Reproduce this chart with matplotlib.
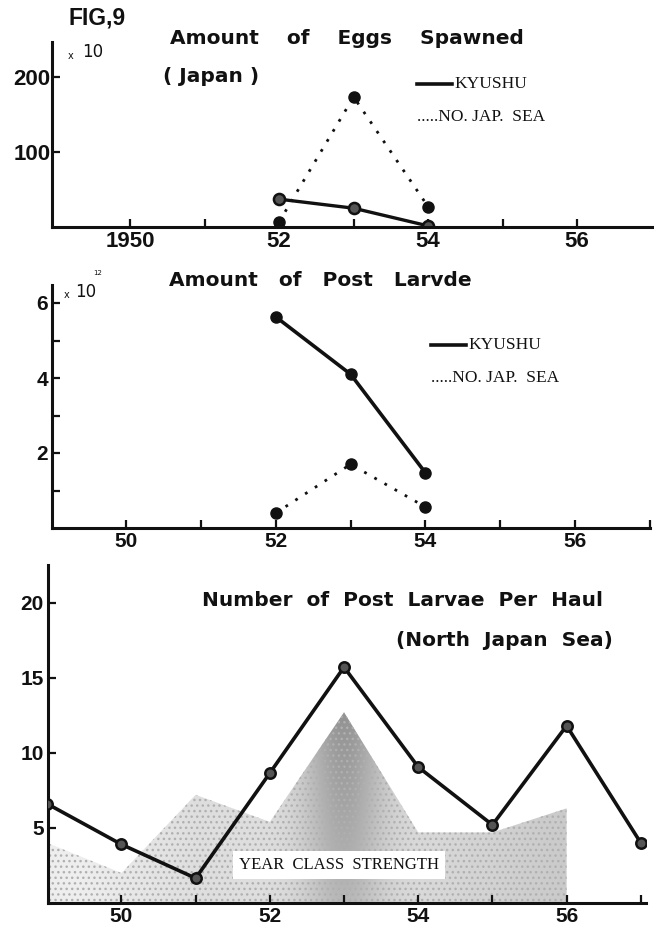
import numpy as np
import matplotlib
matplotlib.use("Agg")
import matplotlib.pyplot as plt
from matplotlib.patches import Polygon

# ---- data ----
egg_years = [1952, 1953, 1954]
egg_kyushu = [37, 25, 1.5]          # x 10
egg_njs = [7, 173, 27]

larvae_years = [1952, 1953, 1954]
larvae_kyushu = [5.63, 4.1, 1.47]   # x 10^12
larvae_njs = [0.4, 1.7, 0.56]

haul_years = [1949, 1950, 1951, 1952, 1953, 1954, 1955, 1956, 1957]
haul_values = [6.6, 3.9, 1.65, 8.65, 15.7, 9.05, 5.2, 11.8, 4.0]

strength_years = [1949, 1950, 1951, 1952, 1953, 1954, 1955, 1956]
strength_values = [4.0, 2.0, 7.2, 5.4, 12.7, 4.7, 4.7, 6.3]

xtick_years = [1950, 1952, 1954, 1956]
top_xticklabels = ["1950", "52", "54", "56"]
xticklabels = ["50", "52", "54", "56"]

W, H = 654, 935
fig = plt.figure(figsize=(W / 100, H / 100), dpi=100)
fig.patch.set_facecolor("white")

TICKFONT = "Liberation Sans"
TITLEFONT = "DejaVu Sans"
SERIF = "Liberation Serif"
INK = "#111111"


def px_axes(left, top, right, bottom):
    return fig.add_axes([left / W, 1 - bottom / H, (right - left) / W, (bottom - top) / H])


def style(ax, size):
    for s in ("top", "right"):
        ax.spines[s].set_visible(False)
    for s in ("left", "bottom"):
        ax.spines[s].set_linewidth(2.2)
        ax.spines[s].set_color(INK)
    ax.tick_params(which="both", direction="in", length=6, width=1.6, color=INK,
                   labelsize=size, pad=3)
    for lab in ax.get_xticklabels() + ax.get_yticklabels():
        lab.set_fontfamily(TICKFONT)
        lab.set_fontweight("bold")
        lab.set_color(INK)


def title(x, y, s, size=14.5):
    fig.text(x / W, 1 - y / H, s, family=TITLEFONT, fontweight="bold",
             fontsize=size, va="center", ha="center", color=INK)


def legend_block(x, y1, y2):
    # key: solid bar for Kyushu, dots for the Japan Sea
    fig.add_artist(plt.Line2D([x / W, (x + 35) / W], [1 - y1 / H, 1 - y1 / H],
                              color=INK, lw=2.6))
    fig.text((x + 37) / W, 1 - y1 / H, "KYUSHU", family=SERIF, fontsize=12.5,
             va="center", ha="left", color=INK)
    fig.text(x / W, 1 - y2 / H, ".....NO. JAP.  SEA", family=SERIF, fontsize=12.5,
             va="center", ha="left", color=INK)


# ---- panel 1: eggs spawned ----
ax1 = px_axes(52, 42, 653, 227)
ax1.set_xlim(1948.95, 1957.02)
ax1.set_ylim(0, 246)
ax1.plot(egg_years, egg_njs, color=INK, lw=2, ls=(0, (1, 3.2)),
         marker="o", ms=8, mfc=INK, mec=INK)
ax1.plot(egg_years, egg_kyushu, color=INK, lw=2.4,
         marker="o", ms=8, mfc="#555555", mec=INK, mew=1.8)
ax1.set_xticks(xtick_years)
ax1.set_xticklabels(top_xticklabels)
ax1.set_xticks([1951, 1953, 1955], minor=True)
ax1.set_yticks([100, 200])
style(ax1, 16)
ax1.tick_params(axis="y", pad=1)

fig.text(69 / W, 1 - 18 / H, "FIG,9", family=TICKFONT, fontweight="bold",
         fontsize=16.5, va="center", ha="left", color=INK)
title(347, 38, "Amount    of    Eggs    Spawned")
title(211, 77, "( Japan )")
fig.text(68 / W, 1 - 56 / H, "x", family="DejaVu Sans", fontsize=7,
         va="center", ha="left", color=INK)
fig.text(82 / W, 1 - 52 / H, "10", family="DejaVu Sans", fontsize=12,
         va="center", ha="left", color=INK)
legend_block(417, 84, 117)

# ---- panel 2: post larvae ----
ax2 = px_axes(52, 285, 650, 528)
ax2.set_xlim(1949.01, 1957.0)
ax2.set_ylim(0, 6.48)
ax2.plot(larvae_years, larvae_njs, color=INK, lw=2, ls=(0, (1, 3.2)),
         marker="o", ms=8, mfc=INK, mec=INK)
ax2.plot(larvae_years, larvae_kyushu, color=INK, lw=2.6,
         marker="o", ms=8, mfc=INK, mec=INK)
ax2.set_xticks(xtick_years)
ax2.set_xticklabels(xticklabels)
ax2.set_xticks([1951, 1953, 1955, 1957], minor=True)
ax2.set_yticks([2, 4, 6])
ax2.set_yticks([1, 3, 5], minor=True)
style(ax2, 15)

title(320, 281, "Amount   of   Post   Larvde")
fig.text(64 / W, 1 - 295 / H, "x", family="DejaVu Sans", fontsize=7,
         va="center", ha="left", color=INK)
fig.text(75 / W, 1 - 292 / H, "10", family="DejaVu Sans", fontsize=12,
         va="center", ha="left", color=INK)
fig.text(93 / W, 1 - 273 / H, "12", family="DejaVu Sans", fontsize=5,
         va="center", ha="left", color=INK)
legend_block(431, 345, 378)

# ---- panel 3: post larvae per haul with year class strength ----
ax3 = px_axes(48, 565, 646, 903)
ax3.set_xlim(1949.01, 1957.07)
ax3.set_ylim(0, 22.5)

verts = list(zip(strength_years, strength_values)) + [(strength_years[-1], 0), (strength_years[0], 0)]
poly = Polygon(verts, closed=True, facecolor="none", edgecolor="none")
ax3.add_patch(poly)
gx = np.linspace(1949, 1956, 400)
gy = np.linspace(0, 13, 200)
GX, GY = np.meshgrid(gx, gy)
shade = (0.07 + 0.06 * np.clip((GX - 1949.5) / 1.5, 0, 1)
         + 0.30 * np.exp(-((GX - 1953) / 0.55) ** 2) * (0.5 + 0.5 * GY / 13)
         + 0.08 * np.clip((GX - 1953.5) / 2.5, 0, 1))
img = ax3.imshow(1 - shade, extent=(1949, 1956, 0, 13), origin="lower",
                 cmap="gray", vmin=0, vmax=1, aspect="auto", zorder=1)
img.set_clip_path(poly)
dots = Polygon(verts, closed=True, facecolor="none", edgecolor="#b0b0b0",
               lw=0, hatch="...", zorder=1.5)
ax3.add_patch(dots)

ax3.plot(haul_years, haul_values, color=INK, lw=2.6, zorder=3,
         marker="o", ms=7.5, mfc="#555555", mec=INK, mew=1.8)
ax3.set_xticks(xtick_years)
ax3.set_xticklabels(xticklabels)
ax3.set_xticks([1951, 1953, 1955, 1957], minor=True)
ax3.set_yticks([5, 10, 15, 20])
style(ax3, 15)

ax3.text(1952.93, 2.55, "YEAR  CLASS  STRENGTH", family=SERIF, fontsize=12,
         ha="center", va="center", color=INK, zorder=4,
         bbox=dict(boxstyle="square,pad=0.35", fc="white", ec="none"))

title(402, 600, "Number  of  Post  Larvae  Per  Haul", size=14.5)
title(504, 640, "(North  Japan  Sea)", size=14.5)

fig.savefig("out.png", dpi=100, facecolor="white")
